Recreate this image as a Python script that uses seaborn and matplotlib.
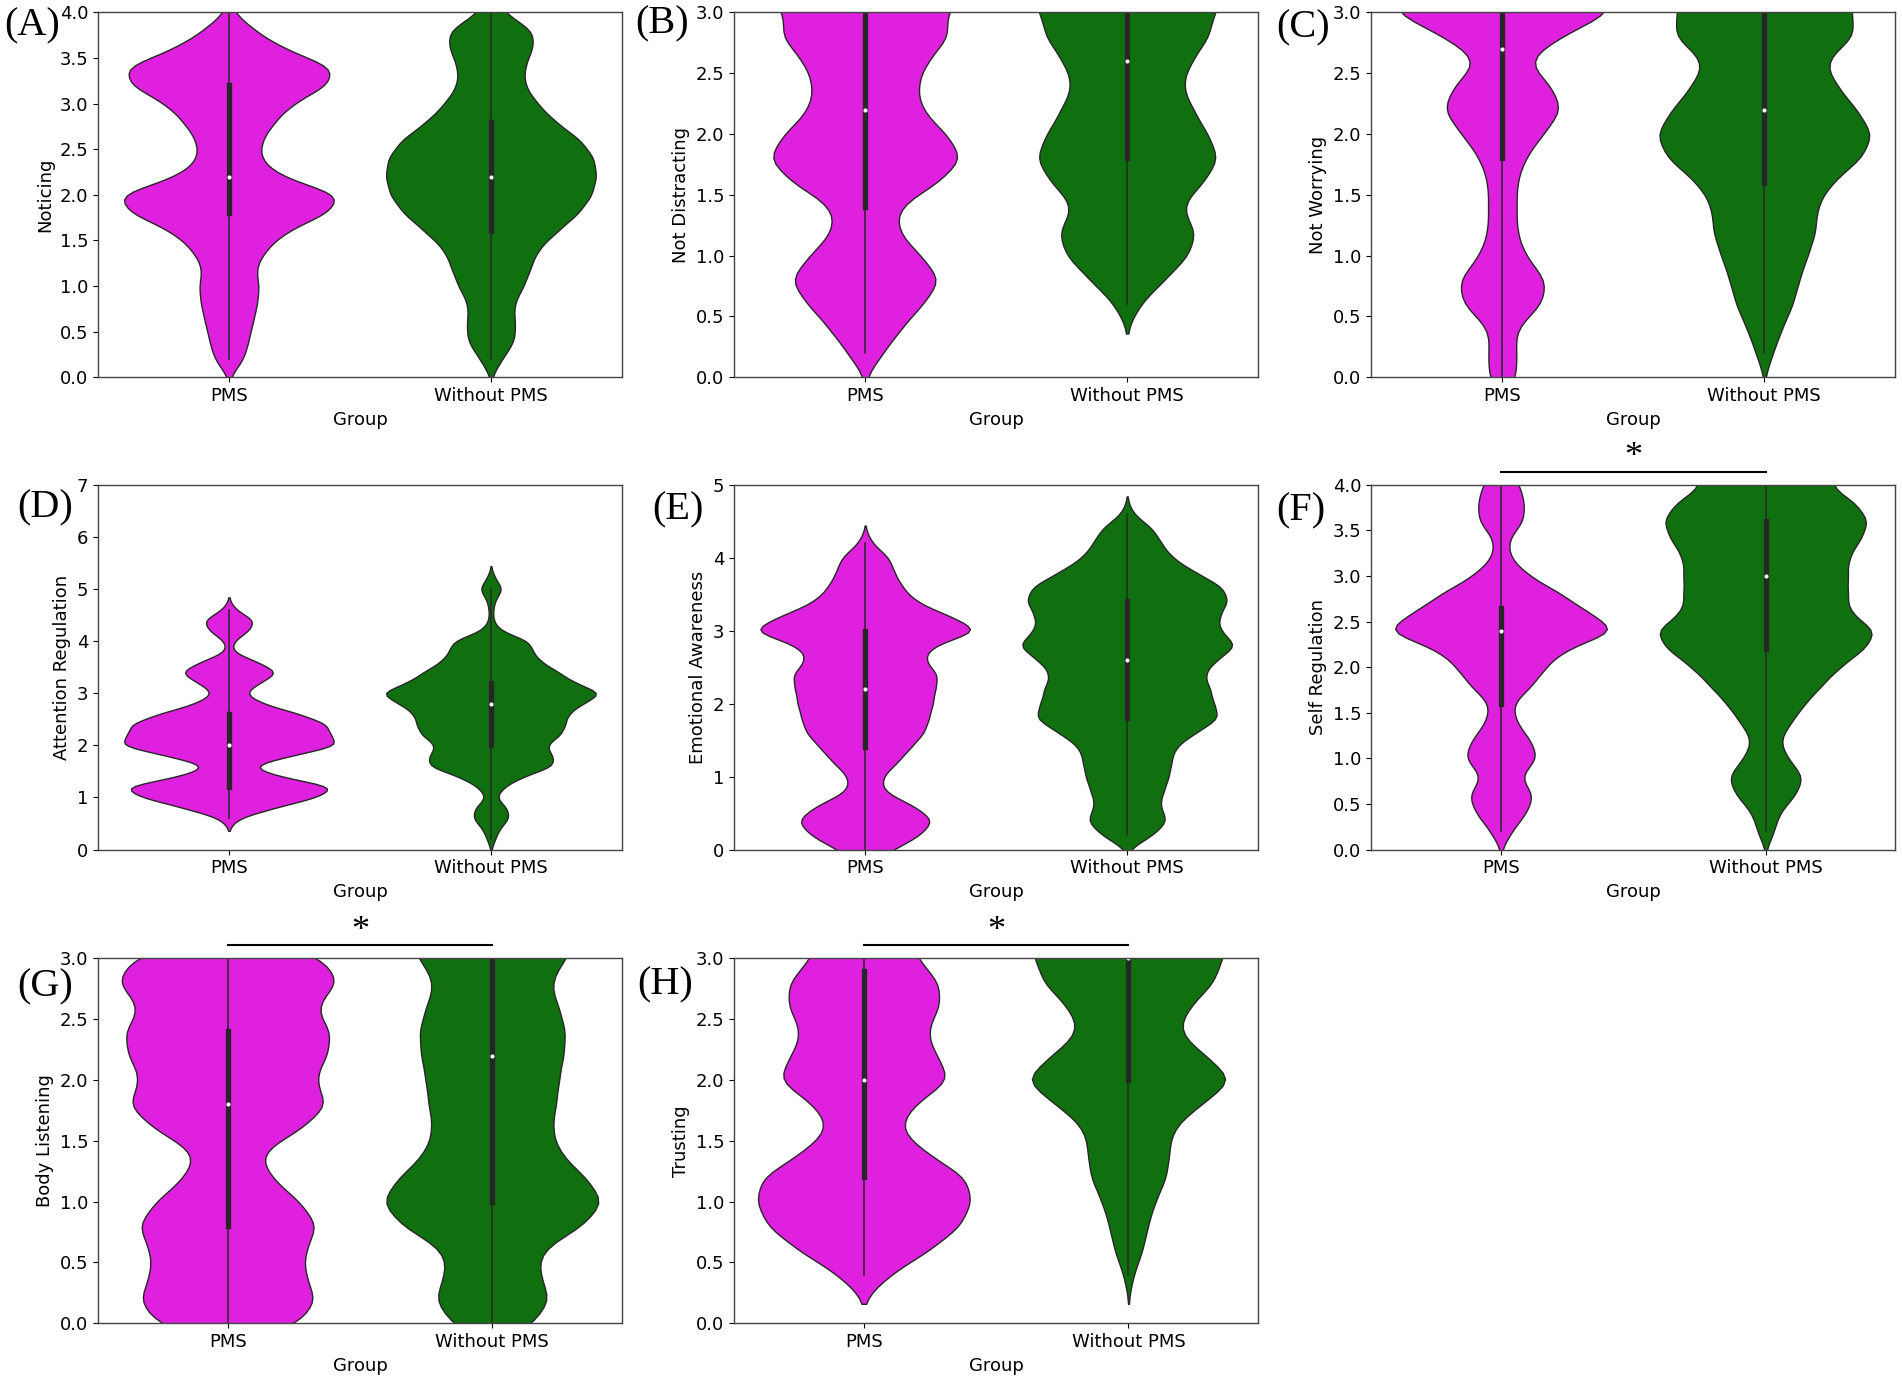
import numpy as np
import pandas as pd
import seaborn as sns
import matplotlib.pyplot as plt
import matplotlib.ticker as mticker

# score levels; every count list below starts at 0.0 and goes up in steps of 0.2
score_levels = [0.0, 0.2, 0.4, 0.6, 0.8, 1.0, 1.2, 1.4, 1.6, 1.8, 2.0, 2.2, 2.4, 2.6,
                2.8, 3.0, 3.2, 3.4, 3.6, 3.8, 4.0, 4.2, 4.4, 4.6, 4.8, 5.0, 5.2, 5.4]

groups = ["PMS", "Without PMS"]
palette = {"PMS": "magenta", "Without PMS": "green"}

# number of participants at each score level, per group
noticing_pms = [0, 7, 9, 11, 13, 14, 12, 17, 26, 46, 53, 23, 14, 15, 21, 29, 46, 49, 25, 12, 2]
noticing_without = [0, 5, 11, 11, 10, 15, 18, 21, 30, 40, 46, 48, 47, 41, 29, 21, 15, 15, 19, 20, 5, 3, 1]

not_distracting_pms = [0, 9, 18, 29, 39, 28, 16, 16, 37, 50, 41, 28, 26, 31, 43, 40, 52, 56, 30, 15, 7, 3, 1]
not_distracting_without = [0, 0, 0, 6, 18, 30, 34, 25, 37, 45, 39, 32, 26, 31, 40, 42, 48, 52, 49, 37, 21, 11, 6, 2]

not_worrying_pms = [7, 7, 6, 20, 22, 11, 7, 7, 7, 11, 20, 30, 24, 11, 28, 55, 51, 29, 16, 7, 3, 1]
not_worrying_without = [0, 3, 6, 10, 12, 15, 18, 18, 23, 34, 38, 32, 25, 20, 32, 30, 30, 25, 16, 8, 3, 1]

attention_pms = [0, 0, 0, 4, 22, 43, 54, 24, 9, 30, 55, 49, 49, 35, 16, 7, 15, 25, 14, 1, 2, 10, 13, 3]
attention_without = [0, 2, 4, 9, 8, 2, 6, 15, 31, 30, 26, 34, 36, 37, 44, 55, 40, 33, 24, 20, 19, 4, 1, 1, 2, 6, 2]

emotional_pms = [14, 27, 34, 24, 8, 8, 16, 22, 29, 31, 33, 34, 36, 28, 32, 58, 41, 24, 18, 14, 12, 3]
emotional_without = [0, 10, 16, 12, 14, 16, 17, 18, 26, 36, 33, 32, 29, 34, 43, 35, 35, 39, 37, 26, 17, 13, 10, 2]

self_reg_pms = [0, 5, 12, 16, 8, 18, 14, 7, 5, 15, 21, 30, 57, 41, 29, 13, 4, 3, 11, 11, 9, 2, 1]
self_reg_without = [0, 2, 3, 7, 9, 5, 3, 6, 9, 13, 17, 23, 26, 19, 19, 19, 19, 22, 24, 21, 14, 18, 14, 9, 3, 1]

body_listening_pms = [35, 42, 36, 36, 43, 34, 20, 14, 35, 48, 40, 47, 49, 40, 53, 46, 12, 3, 1]
body_listening_without = [17, 24, 19, 19, 37, 46, 38, 27, 24, 26, 27, 29, 30, 27, 23, 30, 35, 37, 35, 31, 25, 16, 10, 6, 3]

trusting_pms = [0, 0, 12, 31, 46, 51, 49, 29, 16, 23, 42, 34, 29, 36, 36, 25, 20, 25, 25, 20, 15, 10, 5]
trusting_without = [0, 0, 2, 6, 8, 11, 16, 17, 18, 30, 45, 32, 20, 25, 36, 39, 42, 45, 43, 39, 32, 26, 20, 16, 12, 9]

# letter, y label, y max, tick step, counts, significant
panels = [
    ("(A)", "Noticing", 4.0, 0.5, noticing_pms, noticing_without, False),
    ("(B)", "Not Distracting", 3.0, 0.5, not_distracting_pms, not_distracting_without, False),
    ("(C)", "Not Worrying", 3.0, 0.5, not_worrying_pms, not_worrying_without, False),
    ("(D)", "Attention Regulation", 7, 1, attention_pms, attention_without, False),
    ("(E)", "Emotional Awareness", 5, 1, emotional_pms, emotional_without, False),
    ("(F)", "Self Regulation", 4.0, 0.5, self_reg_pms, self_reg_without, True),
    ("(G)", "Body Listening", 3.0, 0.5, body_listening_pms, body_listening_without, True),
    ("(H)", "Trusting", 3.0, 0.5, trusting_pms, trusting_without, True),
]

BW = 0.12


def fixed_bw(kde):
    return BW / kde.dataset.std(ddof=1)


def make_df(pms_counts, without_counts):
    rows = []
    for grp, counts in zip(groups, [pms_counts, without_counts]):
        vals = np.repeat(score_levels[:len(counts)], counts)
        rows.append(pd.DataFrame({"Group": grp, "Score": vals}))
    return pd.concat(rows, ignore_index=True)


fig = plt.figure(figsize=(19.02, 13.77), dpi=100)

col_x = [0.0515, 0.386, 0.721]
row_y = [0.726, 0.383, 0.039]
ax_w, ax_h = 0.2755, 0.265

letter_pos = [(0.002, 0.981), (0.334, 0.983), (0.671, 0.980),
              (0.009, 0.631), (0.343, 0.630), (0.671, 0.629),
              (0.009, 0.2835), (0.335, 0.285)]

box_kws = {"box_width": 3.8, "whis_width": 1.1, "marker": "o", "markersize": 2.2}

for i, (letter, label, top, step, pms_c, wo_c, sig) in enumerate(panels):
    ax = fig.add_axes([col_x[i % 3], row_y[i // 3], ax_w, ax_h])
    df = make_df(pms_c, wo_c)
    sns.violinplot(data=df, x="Group", y="Score", hue="Group", order=groups,
                   hue_order=groups, palette=palette, inner="box",
                   inner_kws=dict(box_kws), bw_method=fixed_bw, linewidth=1,
                   legend=False, ax=ax)
    ax.set_ylim(0, top)
    ax.yaxis.set_major_locator(mticker.MultipleLocator(step))
    ax.set_ylabel(label, fontsize=13)
    ax.set_xlabel("Group", fontsize=13)
    ax.tick_params(labelsize=13)
    for sp in ax.spines.values():
        sp.set_color("#444444")
        sp.set_linewidth(1.0)

    fig.text(letter_pos[i][0], letter_pos[i][1], letter, fontsize=29,
             family="Liberation Serif", ha="left", va="center")

    if sig:
        ax.plot([0, 1], [1.036, 1.036], color="black", lw=1.5,
                transform=ax.get_xaxis_transform(), clip_on=False)
        ax.text(0.5, 1.05, "*", fontsize=26, family="Liberation Serif",
                ha="center", va="baseline", transform=ax.get_xaxis_transform())

fig.savefig("out.png", dpi=100)
